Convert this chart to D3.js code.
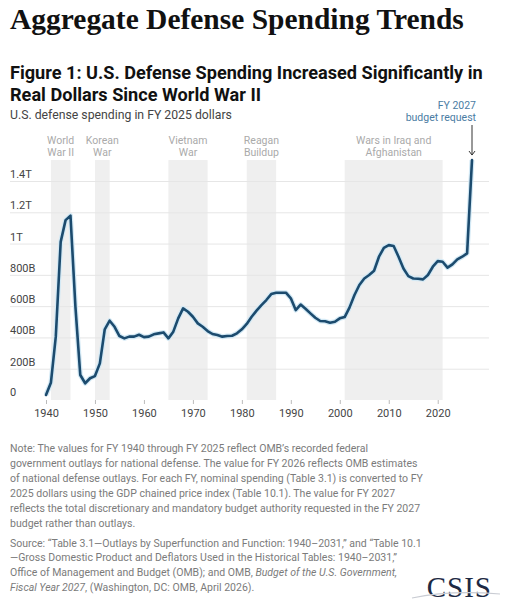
<!DOCTYPE html>
<html>
<head>
<meta charset="utf-8">
<script src="https://cdn.jsdelivr.net/npm/d3@7"></script>
<style>
    body { margin: 0; background: #fff; }
    svg { display: block; }
</style>
</head>
<body>
<div id="chart"></div>
<script>
// defense outlays in FY 2025 dollars, billions, FY 1940 - FY 2027
const firstYear = 1940;
const spending = [
    32, 110, 405, 1011, 1150, 1178, 600, 160, 107, 139,
    153, 234, 452, 507, 468, 409, 394, 405, 405, 417,
    402, 405, 420, 426, 432, 394, 437, 522, 586, 564,
    532, 490, 468, 441, 422, 415, 405, 409, 411, 426,
    452, 486, 532, 571, 607, 639, 677, 686, 686, 686,
    650, 575, 610, 583, 554, 526, 505, 503, 494, 500,
    522, 530, 592, 671, 735, 777, 799, 826, 916, 973,
    990, 984, 916, 841, 792, 777, 775, 771, 799, 852,
    888, 884, 846, 867, 899, 916, 937, 1534
];

const conflicts = [
    { name: ['World', 'War II'], start: 1941, end: 1945 },
    { name: ['Korean', 'War'], start: 1950, end: 1953 },
    { name: ['Vietnam', 'War'], start: 1965, end: 1973 },
    { name: ['Reagan', 'Buildup'], start: 1981, end: 1987 },
    { name: ['Wars in Iraq and', 'Afghanistan'], start: 2001, end: 2021 }
];

const xTicks = [1940, 1950, 1960, 1970, 1980, 1990, 2000, 2010, 2020];
const yTicks = [0, 200, 400, 600, 800, 1000, 1200, 1400];
const yTickLabels = ['0', '200B', '400B', '600B', '800B', '1T', '1.2T', '1.4T'];

const noteLines = [
    'Note: The values for FY 1940 through FY 2025 reflect OMB\u2019s recorded federal',
    'government outlays for national defense. The value for FY 2026 reflects OMB estimates',
    'of national defense outlays. For each FY, nominal spending (Table 3.1) is converted to FY',
    '2025 dollars using the GDP chained price index (Table 10.1). The value for FY 2027',
    'reflects the total discretionary and mandatory budget authority requested in the FY 2027',
    'budget rather than outlays.'
];
// each source line is a list of [text, italic]
const sourceLines = [
    [['Source: \u201cTable 3.1\u2014Outlays by Superfunction and Function: 1940\u20132031,\u201d and \u201cTable 10.1', false]],
    [['\u2014Gross Domestic Product and Deflators Used in the Historical Tables: 1940\u20132031,\u201d', false]],
    [['Office of Management and Budget (OMB); and OMB, ', false], ['Budget of the U.S. Government,', true]],
    [['Fiscal Year 2027', true], [', (Washington, DC: OMB, April 2026).', false]]
];

const width = 512;
const height = 610;
const sans = 'Roboto, "Noto Sans", sans-serif';
const lineColor = '#1c4b6e';
const haloColor = '#d3e9f5';
const bandColor = '#efefef';
const gridColor = '#e6e6e6';
const noteColor = '#7b7b7b';

const data = spending.map((v, i) => ({ year: firstYear + i, value: v }));

const svg = d3.select('#chart')
  .append('svg')
    .attr('width', width)
    .attr('height', height);

const xScale = d3.scaleLinear()
    .domain([1940, 2027])
    .range([46, 472]);

const yScale = d3.scaleLinear()
    .domain([0, 1400])
    .range([400, 181]);

function fitWidth(sel, target) {
    const len = sel.node().getComputedTextLength();
    const size = parseFloat(sel.attr('font-size'));
    sel.attr('font-size', size * target / len);
    return size * target / len;
}

function drawHeader() {
    const title = svg.append('text')
        .attr('x', 10)
        .attr('y', 29)
        .attr('font-family', '"Liberation Serif", "DejaVu Serif", serif')
        .attr('font-weight', 700)
        .attr('font-size', 28)
        .attr('fill', '#111')
        .text('Aggregate Defense Spending Trends');
    fitWidth(title, 454);

    const fig = svg.append('text')
        .attr('font-family', sans)
        .attr('font-weight', 700)
        .attr('font-size', 17)
        .attr('fill', '#111');
    const first = fig.append('tspan')
        .attr('x', 10)
        .attr('y', 78.5)
        .text('Figure 1: U.S. Defense Spending Increased Significantly in');
    const len = first.node().getComputedTextLength();
    fig.attr('font-size', 17 * 473 / len);
    fig.append('tspan')
        .attr('x', 10)
        .attr('y', 100.5)
        .text('Real Dollars Since World War II');

    const sub = svg.append('text')
        .attr('x', 10)
        .attr('y', 118.5)
        .attr('font-family', sans)
        .attr('font-size', 12)
        .attr('fill', '#444')
        .text('U.S. defense spending in FY 2025 dollars');
    fitWidth(sub, 222);
}

function drawBands() {
    const top = yScale(d3.max(spending));
    const bands = svg.append('g').classed('bands', true);

    bands.selectAll('rect')
        .data(conflicts)
      .enter()
      .append('rect')
        .attr('x', d => xScale(d.start))
        .attr('width', d => xScale(d.end) - xScale(d.start))
        .attr('y', top)
        .attr('height', yScale(0) - top)
        .attr('fill', bandColor);

    bands.selectAll('text')
        .data(conflicts)
      .enter()
      .append('text')
        .attr('text-anchor', 'middle')
        .attr('font-family', sans)
        .attr('font-size', 10.5)
        .attr('fill', '#aaa')
        .each(function (d) {
            const cx = (xScale(d.start) + xScale(d.end)) / 2;
            d3.select(this).selectAll('tspan')
                .data(d.name)
              .enter()
              .append('tspan')
                .attr('x', cx)
                .attr('y', (t, i) => 144 + i * 12)
                .text(t => t);
        });
}

function drawAxes() {
    const yAxis = d3.axisRight(yScale)
        .tickValues(yTicks.slice(1))
        .tickSize(479)
        .tickFormat(d => yTickLabels[yTicks.indexOf(d)]);

    const gy = svg.append('g')
        .attr('transform', 'translate(10,0)')
        .call(yAxis);
    gy.select('.domain').remove();
    gy.selectAll('line').attr('stroke', gridColor);
    gy.selectAll('text')
        .attr('x', 0)
        .attr('dy', -3.5)
        .attr('text-anchor', 'start')
        .attr('font-family', sans)
        .attr('font-size', 11)
        .attr('fill', '#444');

    // zero label sits above the baseline without a gridline
    svg.append('text')
        .attr('x', 10)
        .attr('y', yScale(0) - 4)
        .attr('font-family', sans)
        .attr('font-size', 11)
        .attr('fill', '#444')
        .text(yTickLabels[0]);

    const xAxis = d3.axisBottom(xScale)
        .tickValues(xTicks)
        .tickSize(4)
        .tickPadding(5)
        .tickFormat(d3.format('d'));

    const gx = svg.append('g')
        .attr('transform', `translate(0,${yScale(0)})`)
        .call(xAxis);
    gx.select('.domain').remove();
    gx.selectAll('line').attr('stroke', '#bbb');
    gx.selectAll('text')
        .attr('font-family', sans)
        .attr('font-size', 11)
        .attr('fill', '#444');
}

function drawLine() {
    const line = d3.line()
        .x(d => xScale(d.year))
        .y(d => yScale(d.value));

    svg.append('path')
        .datum(data)
        .attr('d', line)
        .attr('fill', 'none')
        .attr('stroke', haloColor)
        .attr('stroke-width', 5)
        .attr('stroke-linejoin', 'round');

    svg.append('path')
        .datum(data)
        .attr('d', line)
        .attr('fill', 'none')
        .attr('stroke', lineColor)
        .attr('stroke-width', 2.6)
        .attr('stroke-linejoin', 'round')
        .attr('stroke-linecap', 'round');
}

function drawAnnotation() {
    const last = data[data.length - 1];
    const ax = xScale(last.year);
    const tip = yScale(last.value) - 5;

    const label = svg.append('text')
        .attr('text-anchor', 'end')
        .attr('font-family', sans)
        .attr('font-size', 10.5)
        .attr('fill', '#4a7ca3');
    label.append('tspan').attr('x', ax + 4).attr('y', 108.5).text('FY 2027');
    label.append('tspan').attr('x', ax + 4).attr('y', 121).text('budget request');

    svg.append('line')
        .attr('x1', ax).attr('x2', ax)
        .attr('y1', 125).attr('y2', tip)
        .attr('stroke', '#333')
        .attr('stroke-width', 1);
    svg.append('path')
        .attr('d', `M${ax - 3},${tip - 4}L${ax},${tip}L${ax + 3},${tip - 4}`)
        .attr('fill', 'none')
        .attr('stroke', '#333')
        .attr('stroke-width', 1);
}

function drawNotes() {
    const notes = svg.append('text')
        .attr('font-family', sans)
        .attr('font-size', 10.5)
        .attr('fill', noteColor);
    notes.selectAll('tspan')
        .data(noteLines)
      .enter()
      .append('tspan')
        .attr('x', 10)
        .attr('y', (d, i) => 452 + i * 15)
        .text(d => d);
    const ref = notes.selectAll('tspan').nodes()[2].getComputedTextLength();
    const size = 10.5 * 413 / ref;
    notes.attr('font-size', size);

    const source = svg.append('g')
        .attr('font-family', sans)
        .attr('font-size', size)
        .attr('fill', noteColor);
    sourceLines.forEach((parts, i) => {
        const t = source.append('text')
            .attr('x', 10)
            .attr('y', 546.5 + i * 14.8);
        parts.forEach(p => {
            t.append('tspan')
                .attr('font-style', p[1] ? 'italic' : 'normal')
                .text(p[0]);
        });
    });

    // logo
    svg.append('text')
        .attr('x', 492)
        .attr('y', 597)
        .attr('text-anchor', 'end')
        .attr('font-family', '"Liberation Serif", serif')
        .attr('font-size', 29)
        .attr('fill', '#1d2a44')
        .attr('letter-spacing', 1)
        .text('CSIS');
    svg.append('path')
        .attr('d', 'M412,598 Q450,590 500,594')
        .attr('fill', 'none')
        .attr('stroke', '#c9ccd3')
        .attr('stroke-width', 1.2);
}

drawHeader();
drawBands();
drawAxes();
drawLine();
drawAnnotation();
drawNotes();
</script>
</body>
</html>
